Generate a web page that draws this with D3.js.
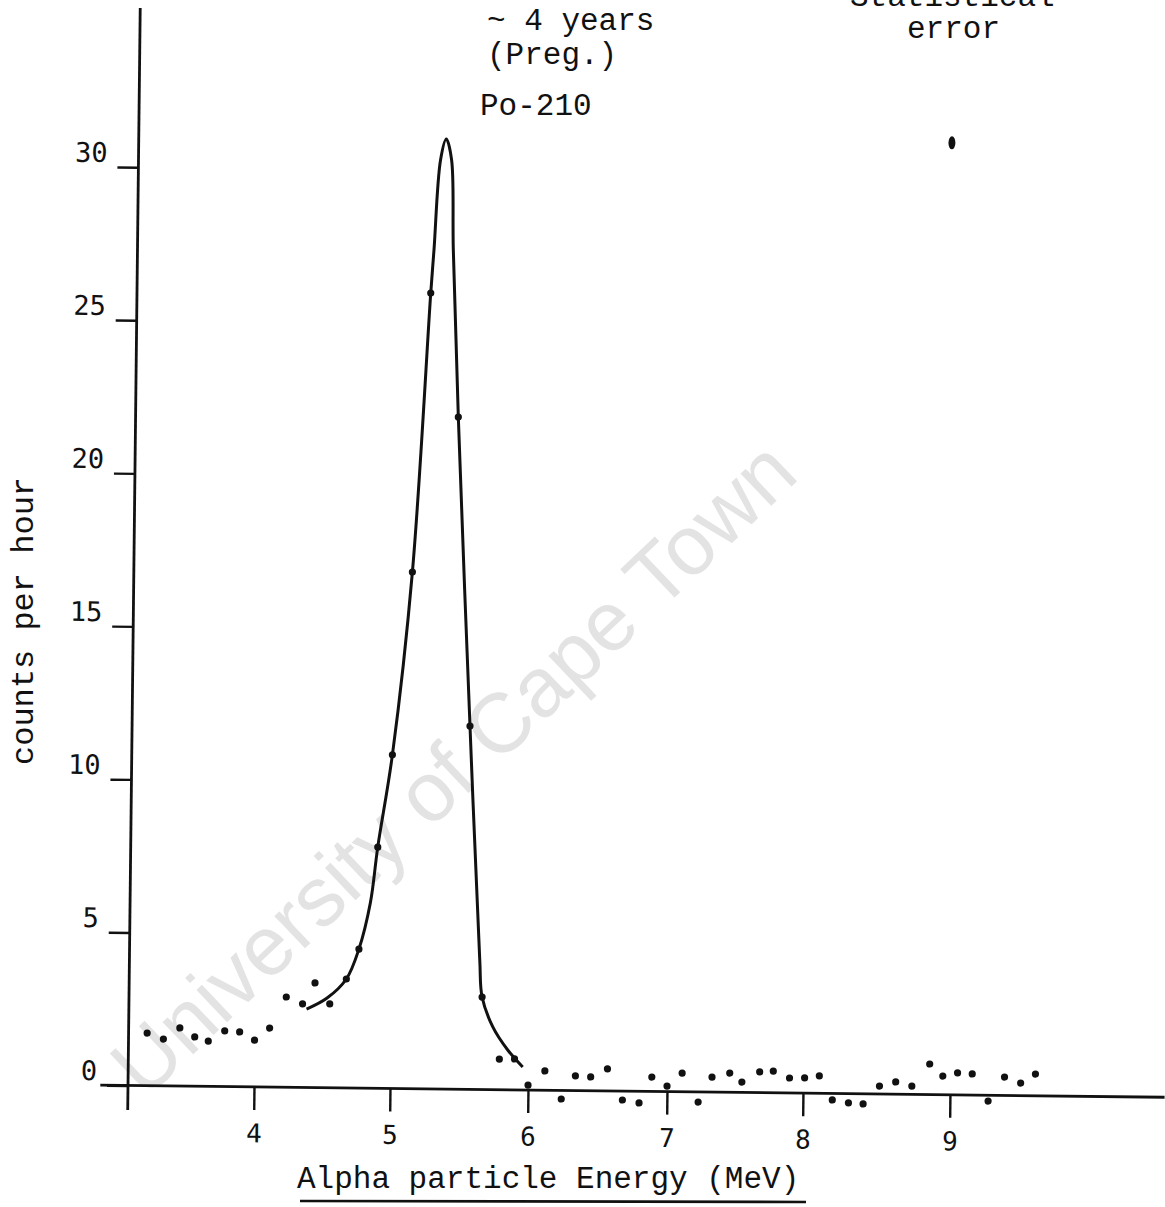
<!DOCTYPE html>
<html>
<head>
<meta charset="utf-8">
<script src="https://cdn.jsdelivr.net/npm/d3@7"></script>
<style>
  html, body { margin: 0; padding: 0; background: #fff; }
  svg { display: block; }
</style>
</head>
<body>
<div id="chart"></div>
<script>
// measured points (MeV, counts per hour)
var energy = [3.21, 3.33, 3.45, 3.56, 3.66, 3.78, 3.89, 4.00, 4.11, 4.23,
  4.35, 4.44, 4.55, 4.67, 4.76, 4.89, 4.99, 5.12, 5.23, 5.44,
  5.55, 5.66, 5.79, 5.90, 6.00, 6.12, 6.24, 6.34, 6.45, 6.57,
  6.68, 6.80, 6.89, 7.00, 7.11, 7.23, 7.33, 7.46, 7.55, 7.68,
  7.78, 7.90, 8.01, 8.11, 8.20, 8.31, 8.41, 8.52, 8.63, 8.74,
  8.86, 8.95, 9.05, 9.15, 9.26, 9.37, 9.48, 9.58];
var counts = [1.72, 1.53, 1.90, 1.61, 1.48, 1.82, 1.79, 1.53, 1.93, 2.95,
  2.73, 3.42, 2.74, 3.56, 4.54, 7.88, 10.90, 16.88, 26.00, 21.96,
  11.87, 3.02, 1.00, 1.01, 0.16, 0.63, -0.28, 0.48, 0.45, 0.72,
  -0.29, -0.38, 0.47, 0.18, 0.61, -0.33, 0.49, 0.63, 0.34, 0.68,
  0.71, 0.49, 0.50, 0.57, -0.21, -0.30, -0.33, 0.26, 0.40, 0.27,
  1.00, 0.61, 0.72, 0.69, -0.19, 0.60, 0.41, 0.71];

// hand drawn Po-210 peak
var fitEnergy = [4.38, 4.53, 4.67, 4.76, 4.84, 4.89, 4.99, 5.12, 5.23, 5.25,
  5.29, 5.33, 5.37, 5.39, 5.44, 5.55, 5.64, 5.66, 5.74, 5.85, 5.96];
var fitCounts = [2.56, 2.93, 3.56, 4.54, 6.05, 7.88, 10.90, 16.88, 26.00, 27.41,
  30.35, 31.04, 30.36, 27.42, 21.96, 11.87, 4.23, 3.02, 2.05, 1.30, 0.75];

var xTickValues = [4, 5, 6, 7, 8, 9];
var yTickValues = [0, 5, 10, 15, 20, 25, 30];

var errorEnergy = [8.94];
var errorCounts = [31.1];

var width = 1165, height = 1207;
var mono = '"Liberation Mono", "Courier New", monospace';
var ink = '#111';

var svg = d3.select('#chart')
  .append('svg')
  .attr('width', width)
  .attr('height', height);

// the hand drawn energy axis is not evenly spaced
var x = d3.scaleLinear()
  .domain(xTickValues)
  .range([254, 390, 528, 667, 803, 950]);

var y = d3.scaleLinear()
  .domain([0, 30])
  .range([1085.5, 167.2]);

// watermark of the scan
svg.append('text')
  .attr('transform', 'translate(145,1100) rotate(-43.5)')
  .attr('font-family', '"Liberation Sans", Arial, sans-serif')
  .attr('font-size', 84)
  .attr('fill', '#e3e3e3')
  .text('University of Cape Town');

// the paper was a little skewed
var plot = svg.append('g')
  .attr('transform', 'rotate(0.65, 128, 1085)');

// axis lines
var line = d3.line();
plot.append('path')
  .attr('d', line([[x(2.87), y(0)], [x(10.46), y(0)]]))
  .attr('stroke', ink)
  .attr('stroke-width', 2.8)
  .attr('fill', 'none');

plot.append('path')
  .attr('d', line([[128, y(-0.8)], [128, y(35.2)]]))
  .attr('stroke', ink)
  .attr('stroke-width', 2.8)
  .attr('fill', 'none');

var xAxis = plot.append('g')
  .attr('transform', 'translate(0,' + y(0) + ')')
  .call(d3.axisBottom(x)
    .tickValues(xTickValues)
    .tickSize(23)
    .tickPadding(14)
    .tickSizeOuter(0)
    .tickFormat(d3.format('d')));

var yAxis = plot.append('g')
  .attr('transform', 'translate(128,0)')
  .call(d3.axisLeft(y)
    .tickValues(yTickValues)
    .tickSize(21)
    .tickPadding(10)
    .tickSizeOuter(0)
    .tickFormat(d3.format('d')));

[xAxis, yAxis].forEach(function(a) {
  a.select('.domain').remove();
  a.selectAll('.tick line')
    .attr('stroke', ink)
    .attr('stroke-width', 2.4);
  a.selectAll('.tick text')
    .attr('fill', ink)
    .attr('font-family', '"DejaVu Sans Mono", monospace')
    .attr('font-size', 26);
});
yAxis.selectAll('.tick text')
  .attr('font-size', 27)
  .attr('dy', '-0.2em');

// fitted curve
var fitLine = d3.line()
  .x(function(d) { return x(d[0]); })
  .y(function(d) { return y(d[1]); })
  .curve(d3.curveCatmullRom.alpha(0.5));

plot.append('path')
  .datum(d3.zip(fitEnergy, fitCounts))
  .attr('d', fitLine)
  .attr('fill', 'none')
  .attr('stroke', ink)
  .attr('stroke-width', 3)
  .attr('stroke-linejoin', 'round');

// measured points
plot.selectAll('circle.pt')
  .data(d3.zip(energy, counts))
  .enter()
  .append('circle')
  .attr('class', 'pt')
  .attr('cx', function(d) { return x(d[0]); })
  .attr('cy', function(d) { return y(d[1]); })
  .attr('r', 3.6)
  .attr('fill', ink);

// statistical error marker
plot.selectAll('ellipse.err')
  .data(d3.zip(errorEnergy, errorCounts))
  .enter()
  .append('ellipse')
  .attr('class', 'err')
  .attr('cx', function(d) { return x(d[0]); })
  .attr('cy', function(d) { return y(d[1]); })
  .attr('rx', 3.5)
  .attr('ry', 6.5)
  .attr('fill', ink);

// typed labels
function typed(str, px, py) {
  return svg.append('text')
    .attr('x', px)
    .attr('y', py)
    .attr('font-family', mono)
    .attr('font-size', 31)
    .attr('fill', ink)
    .text(str);
}

typed('~ 4 years', 487, 30);
typed('(Preg.)', 487, 64);
typed('Po-210', 480, 115);
typed('Statistical', 850, 6);
typed('error', 907, 38);

typed('Alpha particle Energy (MeV)', 297, 1188);
svg.append('path')
  .attr('d', line([[300, 1201], [806, 1202]]))
  .attr('stroke', ink)
  .attr('stroke-width', 2.6);

svg.append('text')
  .attr('transform', 'translate(33,765) rotate(-90)')
  .attr('font-family', mono)
  .attr('font-size', 32)
  .attr('fill', ink)
  .text('counts per hour');
</script>
</body>
</html>
